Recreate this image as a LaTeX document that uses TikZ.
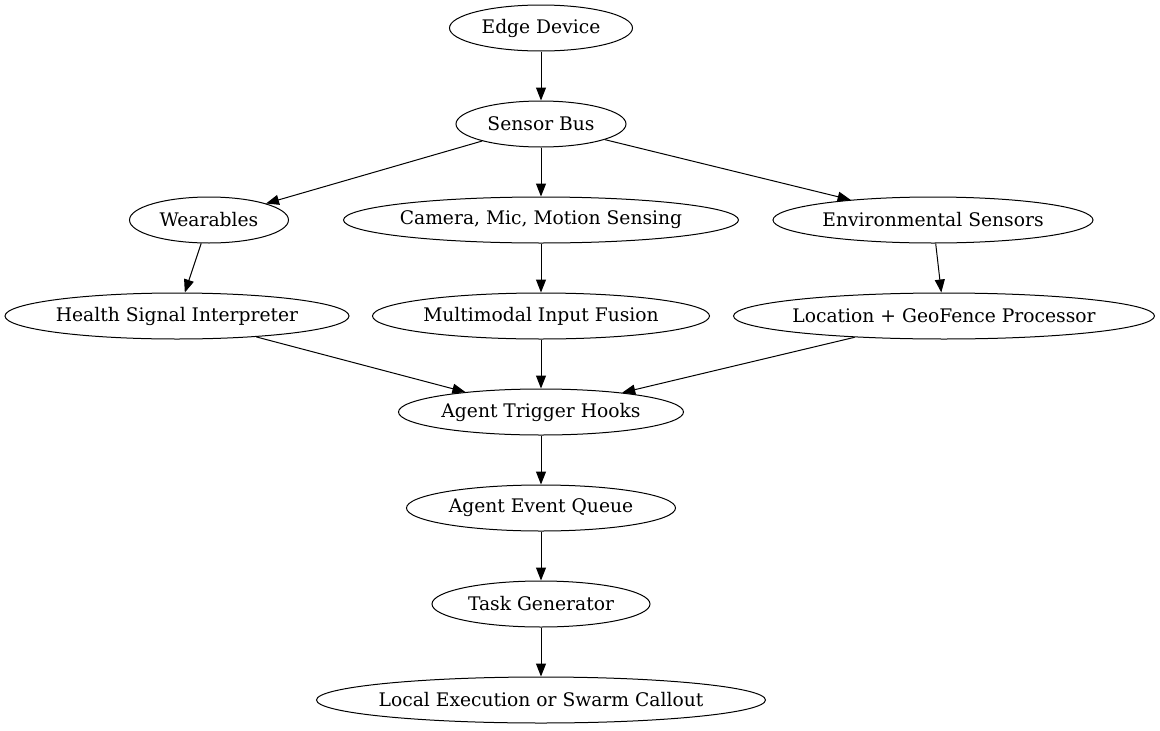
\documentclass[tikz,border=0pt]{standalone}
\usepackage{fontspec}
\setmainfont{DejaVu Serif}
\usetikzlibrary{shapes.geometric,arrows.meta}
\begin{document}
\begin{tikzpicture}[x=1pt,y=-1pt,
  nd/.style={draw,ellipse,inner xsep=-40pt,inner ysep=0pt,minimum height=46pt,line width=1pt,font=\fontsize{18.7}{22}\selectfont},
  ar/.style={-{Triangle[length=13pt,width=10pt]},line width=1pt}]
\useasboundingbox (0,0) rectangle (1160,731);
\node[nd,minimum width=183pt] (edge) at (541,28) {Edge Device};
\node[nd,minimum width=170pt] (bus) at (541,124) {Sensor Bus};
\node[nd,minimum width=159pt] (wear) at (209,220) {Wearables};
\node[nd,minimum width=395pt] (cam) at (541,220) {Camera, Mic, Motion Sensing};
\node[nd,minimum width=320pt] (env) at (933,220) {Environmental Sensors};
\node[nd,minimum width=344pt] (health) at (177,316) {Health Signal Interpreter};
\node[nd,minimum width=337pt] (fusion) at (541,316) {Multimodal Input Fusion};
\node[nd,minimum width=421pt] (loc) at (944,316) {Location + GeoFence Processor};
\node[nd,minimum width=285pt] (hooks) at (541,412) {Agent Trigger Hooks};
\node[nd,minimum width=269pt] (queue) at (541,508) {Agent Event Queue};
\node[nd,minimum width=218pt] (task) at (541,604) {Task Generator};
\node[nd,minimum width=449pt] (local) at (541,700) {Local Execution or Swarm Callout};
\draw[ar] (edge) -- (bus);
\draw[ar] (bus) -- (wear);
\draw[ar] (bus) -- (cam);
\draw[ar] (bus) -- (env);
\draw[ar] (wear) -- (health);
\draw[ar] (cam) -- (fusion);
\draw[ar] (env) -- (loc);
\draw[ar] (health) -- (hooks);
\draw[ar] (fusion) -- (hooks);
\draw[ar] (loc) -- (hooks);
\draw[ar] (hooks) -- (queue);
\draw[ar] (queue) -- (task);
\draw[ar] (task) -- (local);
\end{tikzpicture}
\end{document}
